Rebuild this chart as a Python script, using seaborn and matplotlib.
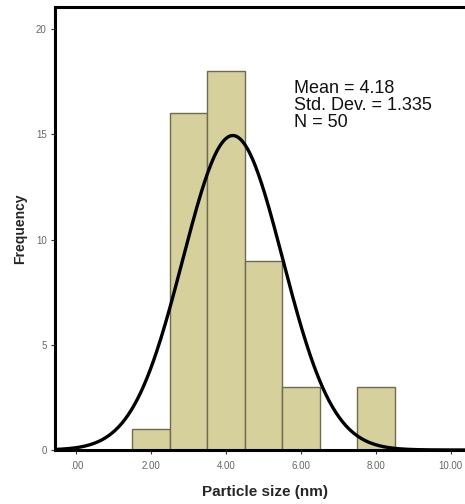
import numpy as np
import pandas as pd
import matplotlib
matplotlib.use("Agg")
import matplotlib.pyplot as plt
import seaborn as sns

# Data
bin_centers = [2.0, 3.0, 4.0, 5.0, 6.0, 7.0, 8.0]
counts = [1, 16, 18, 9, 3, 0, 3]
mean_val = 4.18
std_val = 1.335
n_val = 50
x_ticks = [0, 2, 4, 6, 8, 10]
x_ticklabels = [".00", "2.00", "4.00", "6.00", "8.00", "10.00"]
y_ticks = [0, 5, 10, 15, 20]

sns.set_style("white")
plt.rcParams['font.family'] = ['Liberation Sans', 'DejaVu Sans']

df = pd.DataFrame({"size": bin_centers, "count": counts})

fig = plt.figure(figsize=(4.65, 5.04), dpi=100)
ax = fig.add_axes([55/465, 54/504, 420/465, 443/504])

sns.histplot(data=df, x="size", weights="count", binwidth=1, binrange=(1.5, 8.5),
             color="#d5d09c", edgecolor="#6e6b50", linewidth=1.0, alpha=1.0, ax=ax)

xs = np.linspace(-0.6, 10.7, 400)
pdf = n_val * 1.0 / (std_val * np.sqrt(2 * np.pi)) * np.exp(-0.5 * ((xs - mean_val) / std_val) ** 2)
sns.lineplot(x=xs, y=pdf, color="black", linewidth=2.4, ax=ax)

ax.set_xlim(-0.57, 10.65)
ax.set_ylim(0, 21.05)
ax.set_xticks(x_ticks)
ax.set_xticklabels(x_ticklabels)
ax.set_yticks(y_ticks)
ax.tick_params(axis="both", labelsize=7, labelcolor="#666666", length=3, width=0.8,
               color="#333333", direction="out", pad=3)
ax.tick_params(axis="x", bottom=True, pad=5)
ax.tick_params(axis="y", left=True)

for side in ["left", "top", "bottom", "right"]:
    ax.spines[side].set_visible(True)
    ax.spines[side].set_color("black")
    ax.spines[side].set_linewidth(2.2)

ax.set_xlabel("Particle size (nm)", fontsize=11, fontweight="bold", labelpad=10)
ax.set_ylabel("Frequency", fontsize=10, fontweight="bold", labelpad=6)

ax.text(0.568, 0.835, f"Mean = {mean_val}\nStd. Dev. = {std_val}\nN = {n_val}",
        transform=ax.transAxes, fontsize=13, va="top", ha="left", linespacing=1.0,
        color="#111111")

fig.savefig("out.png", dpi=100)
